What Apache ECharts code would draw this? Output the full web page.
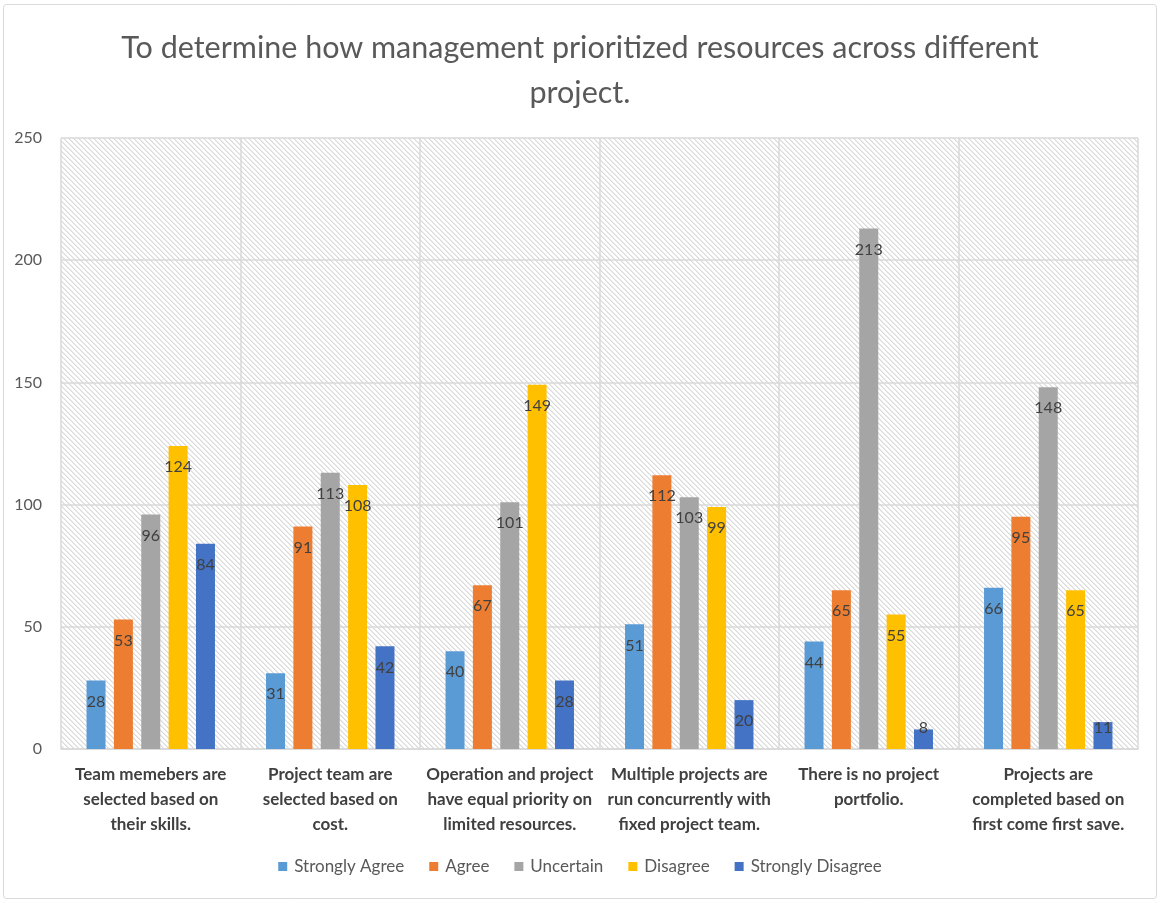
<!DOCTYPE html>
<html>
<head>
<meta charset="utf-8">
<script src="https://cdn.jsdelivr.net/npm/echarts@6/dist/echarts.min.js"></script>
<style>
  html, body { margin: 0; padding: 0; background: #ffffff; }
  #chart { width: 1160px; height: 903px; }
</style>
</head>
<body>
<div id="chart"></div>
<script>
// Survey statements (x-axis categories, pre-wrapped)
const categories = [
  'Team memebers are\nselected based on\ntheir skills.',
  'Project team are\nselected based on\ncost.',
  'Operation and project\nhave equal priority on\nlimited resources.',
  'Multiple projects are\nrun concurrently with\nfixed project team.',
  'There is no project\nportfolio.',
  'Projects are\ncompleted based on\nfirst come first save.'
];

// Response counts per answer option
const stronglyAgree    = [28, 31, 40, 51, 44, 66];
const agree            = [53, 91, 67, 112, 65, 95];
const uncertain        = [96, 113, 101, 103, 213, 148];
const disagree         = [124, 108, 149, 99, 55, 65];
const stronglyDisagree = [84, 42, 28, 20, 8, 11];

const seriesNames = ['Strongly Agree', 'Agree', 'Uncertain', 'Disagree', 'Strongly Disagree'];
const seriesValues = [stronglyAgree, agree, uncertain, disagree, stronglyDisagree];
const seriesColors = ['#5B9BD5', '#ED7D31', '#A5A5A5', '#FFC000', '#4472C4'];

const FONT = 'Lato, "Open Sans", sans-serif';

// Diagonal hatch tile for the plot background
function makeHatch() {
  const n = 10, period = 5;
  const c = document.createElement('canvas');
  c.width = n; c.height = n;
  const ctx = c.getContext('2d');
  const img = ctx.createImageData(n, n);
  for (let y = 0; y < n; y++) {
    for (let x = 0; x < n; x++) {
      const k = ((x - y) % period + period) % period;
      let v = 255;
      if (k === 0) v = 218;
      else if (k === 1) v = 234;
      const i = (y * n + x) * 4;
      img.data[i] = v; img.data[i + 1] = v; img.data[i + 2] = v; img.data[i + 3] = 255;
    }
  }
  ctx.putImageData(img, 0, 0);
  return c;
}

// Short bars keep their value label clamped near the base
function barData(values) {
  return values.map(v => {
    if (v < 18) {
      return { value: v, label: { position: 'insideBottom', distance: 13 } };
    }
    return v;
  });
}

const chart = echarts.init(document.getElementById('chart'), null, { renderer: 'canvas' });

chart.setOption({
  backgroundColor: '#ffffff',
  animation: false,
  textStyle: { fontFamily: FONT },
  title: {
    text: 'To determine how management prioritized resources across different\nproject.',
    left: 'center',
    top: 21,
    textStyle: {
      fontFamily: FONT,
      fontSize: 30.5,
      fontWeight: 'normal',
      color: '#595959',
      lineHeight: 45
    }
  },
  graphic: [{
    type: 'rect',
    shape: { x: 3.5, y: 4.5, width: 1153, height: 894, r: 3 },
    style: { fill: 'none', stroke: '#d9d9d9', lineWidth: 1 },
    silent: true,
    z: -1
  }],
  legend: {
    data: seriesNames,
    bottom: 23,
    left: 'center',
    itemWidth: 9,
    itemHeight: 9,
    itemGap: 25,
    icon: 'rect',
    textStyle: { fontFamily: FONT, fontSize: 17, color: '#595959', padding: [0, 0, 0, 2] }
  },
  grid: {
    left: 61,
    right: 22,
    top: 138,
    bottom: 154,
    show: true,
    borderWidth: 0,
    backgroundColor: { image: makeHatch(), repeat: 'repeat' }
  },
  xAxis: {
    type: 'category',
    data: categories,
    axisLine: { show: true, lineStyle: { color: '#d9d9d9', width: 1.5 } },
    axisTick: { show: false },
    splitLine: { show: true, interval: 0, lineStyle: { color: '#d9d9d9', width: 1.5 } },
    axisLabel: {
      interval: 0,
      margin: 13,
      fontFamily: FONT,
      fontSize: 17,
      fontWeight: 'bold',
      color: '#404040',
      lineHeight: 25
    }
  },
  yAxis: {
    type: 'value',
    min: 0,
    max: 250,
    interval: 50,
    axisLine: { show: false },
    axisTick: { show: false },
    splitLine: { show: true, lineStyle: { color: '#d9d9d9', width: 1.5 } },
    axisLabel: {
      margin: 19,
      fontFamily: FONT,
      fontSize: 16,
      color: '#595959'
    }
  },
  series: seriesNames.map((name, i) => ({
    name: name,
    type: 'bar',
    data: barData(seriesValues[i]),
    barWidth: 19,
    barGap: '44%',
    itemStyle: { color: seriesColors[i] },
    label: {
      show: true,
      position: 'insideTop',
      distance: 13,
      fontFamily: FONT,
      fontSize: 16,
      color: '#404040'
    }
  }))
});
</script>
</body>
</html>
